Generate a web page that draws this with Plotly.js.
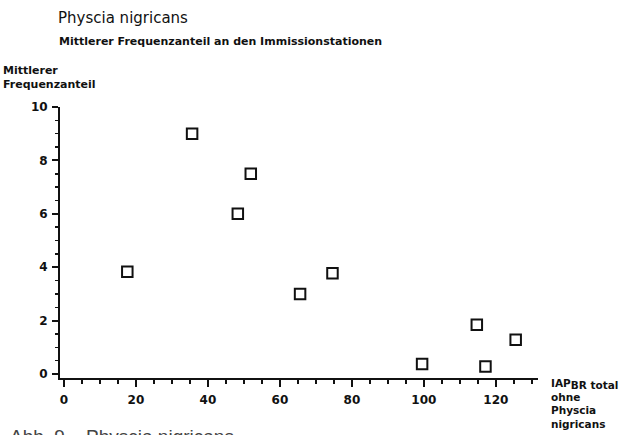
<!DOCTYPE html>
<html>
<head>
<meta charset="utf-8">
<script src="https://cdn.plot.ly/plotly-3.0.1.min.js"></script>
<style>html,body{margin:0;padding:0;background:#fff;}#chart{width:624px;height:435px;}</style>
</head>
<body>
<div id="chart"></div>
<script>
// Data
const iapValues = [17.6, 35.6, 48.3, 51.9, 65.6, 74.6, 99.5, 114.7, 117.1, 125.5];
const frequenzValues = [3.83, 9.0, 6.0, 7.5, 3.0, 3.77, 0.37, 1.84, 0.28, 1.28];
const xTickVals = [0, 20, 40, 60, 80, 100, 120];
const yTickVals = [0, 2, 4, 6, 8, 10];

const L = 60, R = 538, T = 106.7, B = 378.3;
const px = x => (x - L) / (R - L);
const py = y => (B - y) / (B - T);
const bodyFont = {family: 'DejaVu Sans', size: 11, color: '#111', weight: 700};

const trace = {
  x: iapValues, y: frequenzValues, type: 'scatter', mode: 'markers',
  marker: {symbol: 'square-open', size: 10.5, color: '#111', line: {width: 2, color: '#111'}},
  hoverinfo: 'skip', showlegend: false
};

const layout = {
  width: 624, height: 435,
  paper_bgcolor: '#fff', plot_bgcolor: '#fff',
  margin: {l: L, r: 624 - R, t: T, b: 435 - B, pad: 0},
  title: {
    text: 'Physcia nigricans',
    font: {family: 'DejaVu Sans', size: 15, color: '#111'},
    xref: 'container', yref: 'container',
    x: 58 / 624, xanchor: 'left', y: 1 - 12 / 435, yanchor: 'top'
  },
  xaxis: {
    range: [-1.1, 131.7], showgrid: false, zeroline: false,
    showline: true, linewidth: 2, linecolor: '#111',
    ticks: 'outside', ticklen: 7, tickwidth: 2, tickcolor: '#111',
    ticklabelstandoff: 3,
    tickvals: xTickVals, ticktext: xTickVals.map(String),
    tickfont: {family: 'DejaVu Sans', size: 12, color: '#111', weight: 700},
    minor: {dtick: 5, tick0: 0, ticks: 'outside', ticklen: 4, tickwidth: 1.5, tickcolor: '#111', showgrid: false}
  },
  yaxis: {
    range: [-0.15, 10], showgrid: false, zeroline: false,
    showline: true, linewidth: 2, linecolor: '#111',
    ticks: 'outside', ticklen: 6, tickwidth: 2, tickcolor: '#111',
    ticklabelstandoff: 2,
    tickvals: yTickVals, ticktext: yTickVals.map(String),
    tickfont: {family: 'DejaVu Sans', size: 12, color: '#111', weight: 700},
    minor: {dtick: 0.5, tick0: 0, ticks: 'outside', ticklen: 3, tickwidth: 1.5, tickcolor: '#111', showgrid: false}
  },
  annotations: [
    {text: 'Mittlerer Frequenzanteil an den Immissionstationen', xref: 'paper', yref: 'paper',
     x: px(57), y: py(41), xanchor: 'left', yanchor: 'middle', showarrow: false, font: bodyFont},
    {text: 'Mittlerer<br>Frequenzanteil', xref: 'paper', yref: 'paper', align: 'left',
     x: px(1), y: py(62), xanchor: 'left', yanchor: 'top', showarrow: false, font: bodyFont},
    {text: 'IAP<sub><span style="font-size:10.5px">BR total</span></sub><br>ohne<br>Physcia<br>nigricans',
     xref: 'paper', yref: 'paper', align: 'left',
     x: px(549), y: py(375), xanchor: 'left', yanchor: 'top', showarrow: false,
     font: {family: 'DejaVu Sans', size: 10.5, color: '#111', weight: 700}},
    {text: 'Abb. 9 \u2013 Physcia nigricans', xref: 'paper', yref: 'paper', align: 'left',
     x: px(8), y: py(424), xanchor: 'left', yanchor: 'top', showarrow: false,
     font: {family: 'Liberation Sans', size: 19, color: '#444'}}
  ]
};

Plotly.newPlot('chart', [trace], layout, {staticPlot: true, displayModeBar: false});
</script>
</body>
</html>
